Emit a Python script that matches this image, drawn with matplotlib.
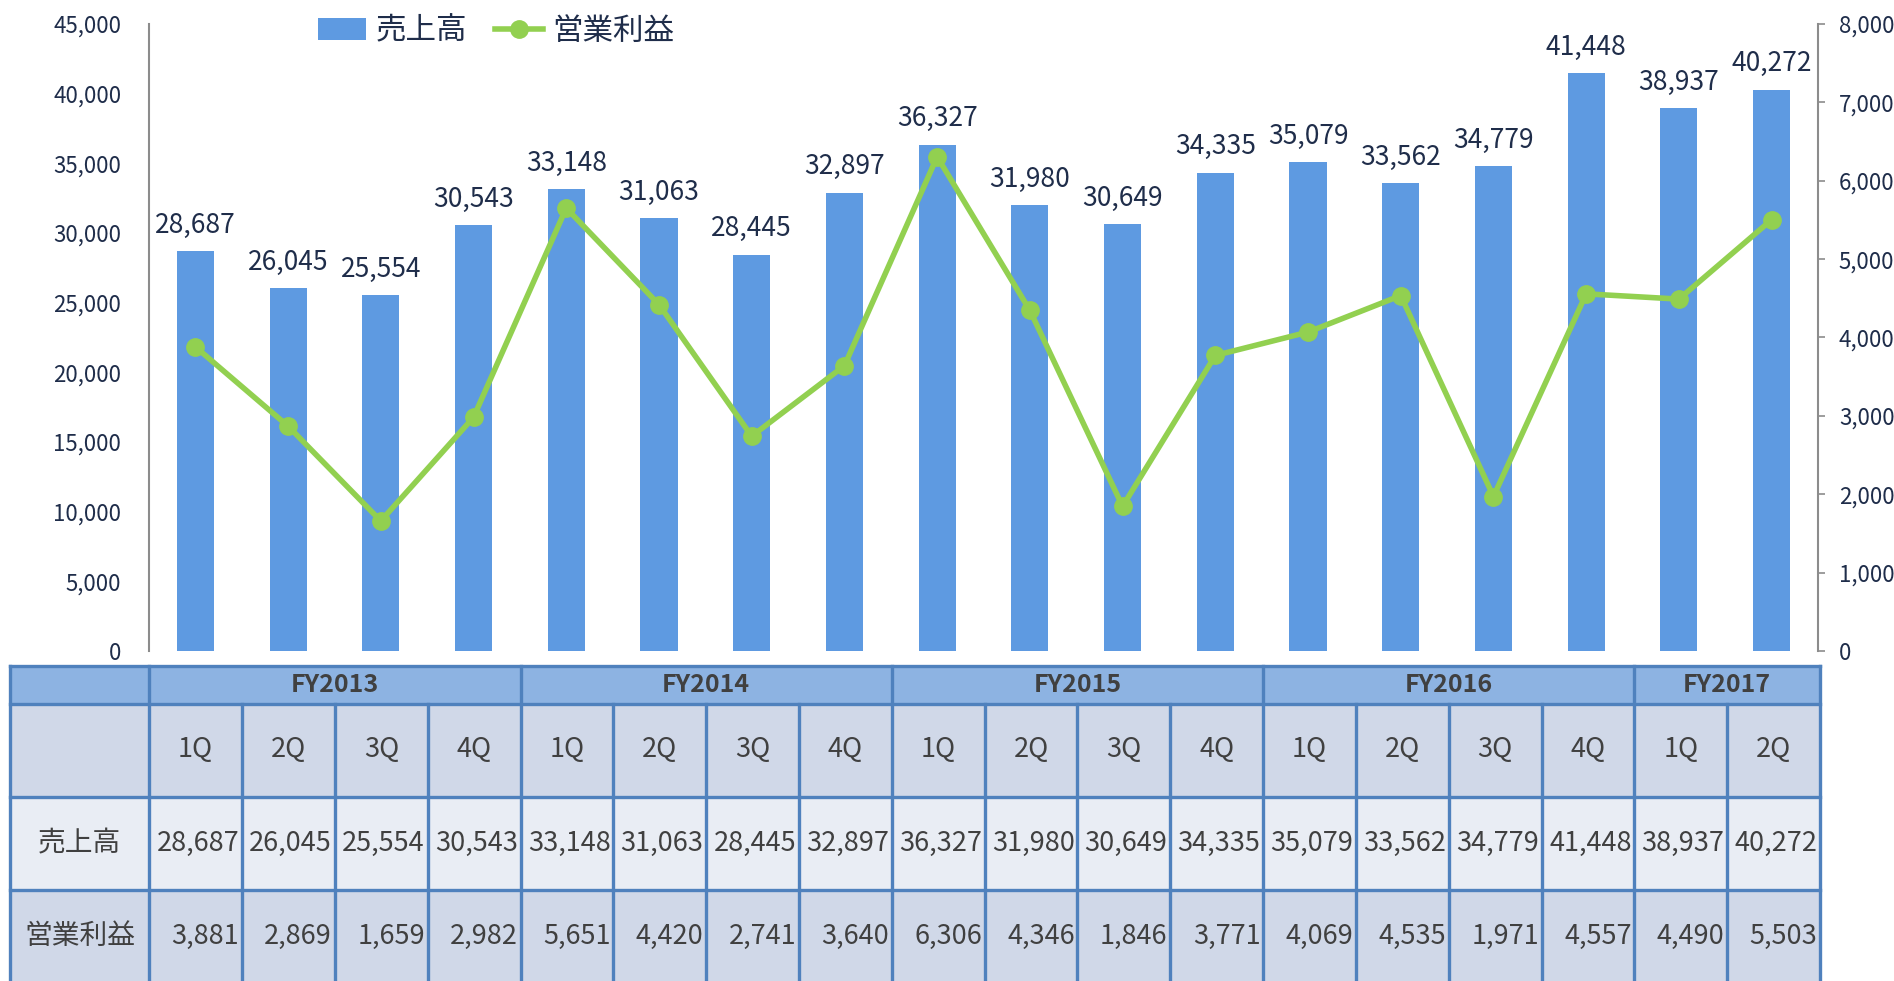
import matplotlib
matplotlib.use('Agg')
import matplotlib.pyplot as plt
from matplotlib.patches import Rectangle
from matplotlib.ticker import FuncFormatter, MultipleLocator

plt.rcParams['font.family'] = ['Noto Sans CJK JP', 'DejaVu Sans']

# data
quarters = ['1Q', '2Q', '3Q', '4Q'] * 4 + ['1Q', '2Q']
years = ['FY2013', 'FY2014', 'FY2015', 'FY2016', 'FY2017']
year_spans = [4, 4, 4, 4, 2]
sales = [28687, 26045, 25554, 30543, 33148, 31063, 28445, 32897, 36327,
         31980, 30649, 34335, 35079, 33562, 34779, 41448, 38937, 40272]
profit = [3881, 2869, 1659, 2982, 5651, 4420, 2741, 3640, 6306,
          4346, 1846, 3771, 4069, 4535, 1971, 4557, 4490, 5503]
row_labels = ['売上高', '営業利益']

W, H = 1894, 981
bar_color = '#5E9AE1'
line_color = '#92D050'
navy = '#1F2D4A'
grey_txt = '#404040'
border = '#4F81BD'

fig = plt.figure(figsize=(W / 100, H / 100), dpi=100)
ax = fig.add_axes([149 / W, (H - 651) / H, 1669 / W, 627 / H])
ax2 = ax.twinx()

x = list(range(len(sales)))
bars = ax.bar(x, sales, width=0.4, color=bar_color, label=row_labels[0], zorder=2)
ax.bar_label(bars, labels=[f'{v:,}' for v in sales], padding=9,
             fontsize=19, color=navy)
line, = ax2.plot(x, profit, color=line_color, lw=4, marker='o', markersize=12.5,
                 label=row_labels[1], zorder=3)

ax.set_xlim(-0.5, 17.5)
ax.set_ylim(0, 45000)
ax2.set_ylim(0, 8000)
ax.yaxis.set_major_locator(MultipleLocator(5000))
ax2.yaxis.set_major_locator(MultipleLocator(1000))
fmt = FuncFormatter(lambda v, p: f'{int(v):,}')
ax.yaxis.set_major_formatter(fmt)
ax2.yaxis.set_major_formatter(fmt)
ax.set_xticks([])

for a in (ax, ax2):
    for s in ('top', 'bottom'):
        a.spines[s].set_visible(False)
ax.spines['right'].set_visible(False)
ax2.spines['left'].set_visible(False)
ax.spines['left'].set_color('#8C8C8C')
ax.spines['left'].set_linewidth(1.5)
ax2.spines['right'].set_color('#8C8C8C')
ax2.spines['right'].set_linewidth(1.5)
ax.tick_params(axis='y', length=0, pad=20, labelsize=16, labelcolor=navy)
ax2.tick_params(axis='y', length=5, width=1.2, color='#8C8C8C', pad=10,
                labelsize=16, labelcolor=navy)

fig.legend(handles=[bars, line], labels=row_labels, loc='upper left',
           bbox_to_anchor=(290 / W, 1 + 12 / H), ncol=2, frameon=False,
           fontsize=22, handlelength=1.6, handletextpad=0.3, columnspacing=0.9,
           labelcolor=navy)

# table below the chart
tab = fig.add_axes([10 / W, 0, 1810 / W, 315 / H])
tab.set_xlim(-2.0, 17.5)
tab.set_ylim(981, 666)
tab.axis('off')

rows_y = [666, 704, 797, 890, 990]
fills = ['#8DB3E2', '#D0D8E8', '#E9EDF4', '#D0D8E8']
for i, c in enumerate(fills):
    tab.add_patch(Rectangle((-2.0, rows_y[i]), 19.5, rows_y[i + 1] - rows_y[i],
                            facecolor=c, edgecolor='none', zorder=1))

lw = 2.4
for yy in rows_y[:4]:
    tab.plot([-2.0, 17.5], [yy, yy], color=border, lw=lw, zorder=3, clip_on=False)
for xx in (-2.0, -0.5, 17.5):
    tab.plot([xx, xx], [666, 990], color=border, lw=lw, zorder=3, clip_on=False)
start = 0
for span in year_spans:
    for k in range(1, span):
        xx = start + k - 0.5
        tab.plot([xx, xx], [704, 990], color=border, lw=lw, zorder=3, clip_on=False)
    if start + span < len(sales):
        xx = start + span - 0.5
        tab.plot([xx, xx], [666, 990], color=border, lw=lw, zorder=3, clip_on=False)
    start += span

start = 0
for yr, span in zip(years, year_spans):
    tab.text(start + (span - 1) / 2, 685, yr, ha='center', va='center',
             fontsize=18, fontweight='bold', color=grey_txt, zorder=4)
    start += span

for i, q in enumerate(quarters):
    tab.text(i, 750, q, ha='center', va='center', fontsize=19.5, color=grey_txt, zorder=4)
    tab.text(i + 0.47, 843, f'{sales[i]:,}', ha='right', va='center',
             fontsize=19.5, color=grey_txt, zorder=4)
    tab.text(i + 0.47, 936, f'{profit[i]:,}', ha='right', va='center',
             fontsize=19.5, color=grey_txt, zorder=4)

tab.text(-1.25, 843, row_labels[0], ha='center', va='center', fontsize=20, color=grey_txt, zorder=4)
tab.text(-1.25, 936, row_labels[1], ha='center', va='center', fontsize=20, color=grey_txt, zorder=4)

fig.savefig('out.png', dpi=100)
